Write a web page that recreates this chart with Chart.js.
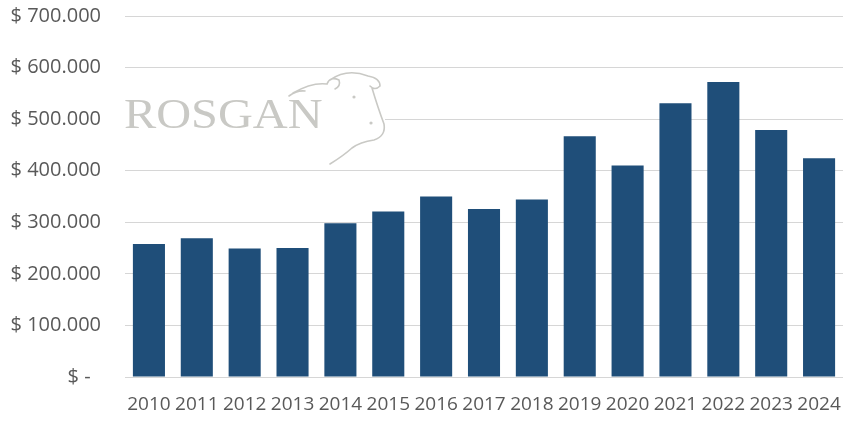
<!DOCTYPE html>
<html>
<head>
<meta charset="utf-8">
<script src="https://cdn.jsdelivr.net/npm/chart.js@4"></script>
<style>
  html, body { margin: 0; padding: 0; background: #ffffff; }
  #wrap { width: 843px; height: 421px; position: relative; }
</style>
</head>
<body>
<div id="wrap"><canvas id="chart"></canvas></div>
<script>
  const years = ['2010', '2011', '2012', '2013', '2014', '2015', '2016', '2017',
    '2018', '2019', '2020', '2021', '2022', '2023', '2024'];
  const values = [258000, 269000, 249000, 250000, 298000, 321000, 350000, 326000,
    344000, 467000, 410000, 531000, 572000, 479000, 424000];
  const yTicks = [0, 100000, 200000, 300000, 400000, 500000, 600000, 700000];
  const watermarkText = 'ROSGAN';

  const barColor = '#1f4e79';
  const textColor = '#595959';
  const gridColor = '#d6d6d6';

  function fmtMoney(v) {
    if (v === 0) return '$ -  ';
    return '$ ' + v.toLocaleString('de-DE');
  }

  // Logo sits on a white patch, so the gridline behind it is hidden
  const watermark = {
    id: 'watermark',
    beforeDatasetsDraw(chart) {
      const { ctx, chartArea } = chart;
      const x0 = chartArea.left;
      const y0 = chartArea.top;
      ctx.save();
      ctx.fillStyle = '#ffffff';
      ctx.fillRect(x0 - 2, y0 + 58, 262, 94);

      ctx.save();
      ctx.translate(x0 - 1, y0 + 112);
      ctx.scale(1.15, 1);
      ctx.fillStyle = '#c9c9c5';
      ctx.font = '42px "Liberation Serif", "DejaVu Serif", serif';
      ctx.textBaseline = 'alphabetic';
      ctx.fillText(watermarkText, 0, 0);
      ctx.restore();

      // rough cow head outline
      ctx.strokeStyle = '#c9c9c5';
      ctx.lineWidth = 1.6;
      ctx.lineCap = 'round';
      ctx.beginPath();
      ctx.moveTo(x0 + 168, y0 + 77);
      ctx.quadraticCurveTo(x0 + 187, y0 + 66, x0 + 202, y0 + 68);
      ctx.quadraticCurveTo(x0 + 205, y0 + 60, x0 + 214, y0 + 64);
      ctx.quadraticCurveTo(x0 + 216, y0 + 70, x0 + 210, y0 + 73);
      ctx.moveTo(x0 + 205, y0 + 64);
      ctx.quadraticCurveTo(x0 + 222, y0 + 52, x0 + 243, y0 + 60);
      ctx.quadraticCurveTo(x0 + 255, y0 + 62, x0 + 255, y0 + 70);
      ctx.quadraticCurveTo(x0 + 250, y0 + 75, x0 + 245, y0 + 70);
      ctx.moveTo(x0 + 247, y0 + 72);
      ctx.quadraticCurveTo(x0 + 253, y0 + 92, x0 + 259, y0 + 108);
      ctx.quadraticCurveTo(x0 + 261, y0 + 120, x0 + 249, y0 + 124);
      ctx.quadraticCurveTo(x0 + 235, y0 + 126, x0 + 227, y0 + 132);
      ctx.quadraticCurveTo(x0 + 218, y0 + 140, x0 + 205, y0 + 148);
      ctx.moveTo(x0 + 180, y0 + 75);
      ctx.quadraticCurveTo(x0 + 172, y0 + 74, x0 + 164, y0 + 80);
      ctx.stroke();

      ctx.fillStyle = '#c9c9c5';
      ctx.beginPath();
      ctx.arc(x0 + 229, y0 + 81, 1.6, 0, Math.PI * 2);
      ctx.arc(x0 + 246, y0 + 107, 1.6, 0, Math.PI * 2);
      ctx.fill();
      ctx.restore();
    }
  };

  new Chart(document.getElementById('chart'), {
    type: 'bar',
    data: {
      labels: years,
      datasets: [{
        data: values,
        backgroundColor: barColor,
        borderWidth: 0,
        categoryPercentage: 1,
        barPercentage: 0.67
      }]
    },
    options: {
      responsive: true,
      maintainAspectRatio: false,
      animation: false,
      layout: { padding: { top: 16, right: 0, bottom: 0, left: 0 } },
      plugins: {
        legend: { display: false },
        tooltip: { enabled: false }
      },
      scales: {
        x: {
          grid: { display: false, drawTicks: false },
          border: { display: true, color: gridColor, width: 1 },
          ticks: {
            color: textColor,
            font: { family: '"Open Sans"', size: 19 },
            padding: 16,
            maxRotation: 0,
            autoSkip: false
          },
          afterFit(scale) {
            scale.height = 44;
            scale.paddingLeft = 0;
            scale.paddingRight = 0;
          }
        },
        y: {
          min: 0,
          max: 700000,
          afterBuildTicks(scale) { scale.ticks = yTicks.map(v => ({ value: v })); },
          grid: { color: gridColor, lineWidth: 1, drawTicks: false },
          border: { display: false },
          ticks: {
            color: textColor,
            font: { family: '"Open Sans"', size: 20 },
            padding: 24,
            callback: v => fmtMoney(v)
          },
          afterFit(scale) {
            scale.width = 125;
            scale.paddingTop = 0;
            scale.paddingBottom = 0;
          }
        }
      }
    },
    plugins: [watermark]
  });
</script>
</body>
</html>
